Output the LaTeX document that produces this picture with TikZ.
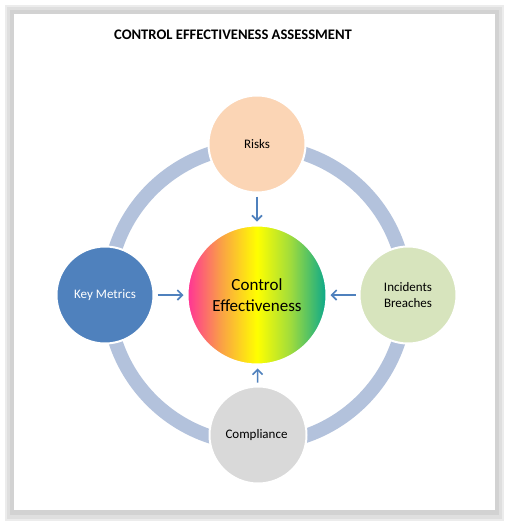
\documentclass[tikz,border=0pt]{standalone}
\usepackage{fontspec}
\setmainfont{Carlito}
\usepackage{tikz}
\usetikzlibrary{arrows.meta,positioning}
\usepackage{xcolor}
\tikzset{>=Stealth}
\definecolor{RiskColor}{RGB}{251,213,181}
\definecolor{MetricColor}{RGB}{79,129,189}
\definecolor{IncidentColor}{RGB}{215,228,189}
\definecolor{ComplyColor}{RGB}{217,217,217}
\definecolor{RingColor}{RGB}{179,194,220}
\definecolor{ArrowColor}{RGB}{79,129,189}
\definecolor{CPink}{RGB}{255,51,150}
\definecolor{COrange}{RGB}{250,160,70}
\definecolor{CYellow}{RGB}{255,255,0}
\definecolor{CLime}{RGB}{160,220,60}
\definecolor{CTeal}{RGB}{10,168,140}
\pgfdeclarehorizontalshading{ctrlshade}{100bp}{color(0bp)=(CPink); color(25bp)=(CPink);
  color(37bp)=(COrange); color(50bp)=(CYellow); color(62bp)=(CLime); color(75bp)=(CTeal); color(100bp)=(CTeal)}

\begin{document}
\begin{tikzpicture}[x=1pt,y=-1pt,
  sat/.style={circle,draw=white,line width=2pt,minimum size=97pt,inner sep=0pt,
    align=center,font=\fontsize{13}{16}\selectfont},
  link/.style={->,draw=ArrowColor,line width=1.6pt,shorten >=3pt,shorten <=3pt},
  >={Straight Barb[length=5pt,width=10pt]}]
\useasboundingbox (0,0) rectangle (509,525);
% panel with its shadow
\fill[gray!15] (5,5) rectangle (504,521);
\fill[gray!25] (7,7) rectangle (502,519);
\fill[gray!35] (10,10) rectangle (499,515);
\fill[white] (14,14) rectangle (495,510);
\node[font=\bfseries\fontsize{14.6}{17}\selectfont] (title) at (233,35) {CONTROL EFFECTIVENESS ASSESSMENT};
% ring
\coordinate (hub) at (257,295);
\draw[RingColor,line width=14pt] (hub) circle[radius=149];
\node[circle,draw=white,line width=2pt,minimum size=139pt,inner sep=0pt,shading=ctrlshade,
  align=center,font=\fontsize{17}{21}\selectfont] (ctrl) at (hub) {Control\\Effectiveness};
\foreach \n/\px/\py/\c/\tc/\t in {
  risks/257/144/RiskColor/black/{Risks},
  metrics/105/295/MetricColor/white/{Key Metrics},
  incidents/408/295/IncidentColor/black/{Incidents\\Breaches},
  comply/258/435/ComplyColor/black/{Compliance}
}{
  \node[sat,fill=\c,text=\tc] (\n) at (\px,\py) {\t};
}
\foreach \n in {risks,metrics,incidents,comply}
  \draw[link] (\n) -- (ctrl);
\end{tikzpicture}
\end{document}
